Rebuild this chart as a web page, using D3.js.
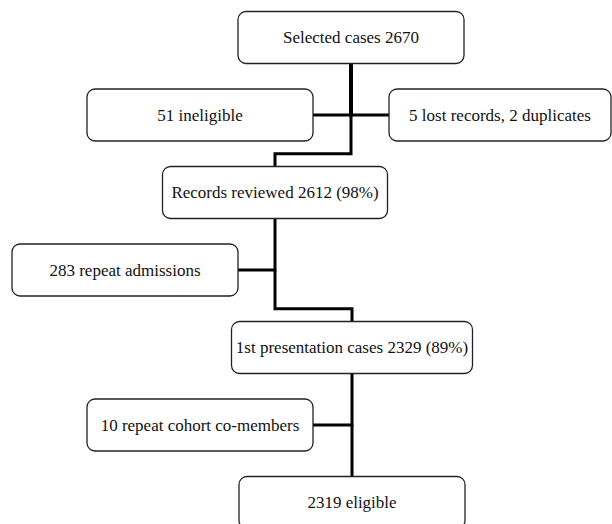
<!DOCTYPE html>
<html>
<head>
<meta charset="utf-8">
<script src="https://cdn.jsdelivr.net/npm/d3@7"></script>
<style>
  body { margin: 0; background: #fff; }
  svg { display: block; }
  .box text { font-family: "Liberation Serif", "Times New Roman", Times, serif; font-size: 17px; }
</style>
</head>
<body>
<div id="flow"></div>
<script>
// flow steps (main column) and exclusions, top to bottom
var stepLabels = ["Selected cases 2670", "Records reviewed 2612 (98%)",
                  "1st presentation cases 2329 (89%)", "2319 eligible"];
var exclusionLabels = ["51 ineligible", "5 lost records, 2 duplicates",
                       "283 repeat admissions", "10 repeat cohort co-members"];
// which step each exclusion branches off
var exclusionFrom = [0, 0, 1, 2];

// layout only (row index, centre x, box width)
var stepLayout = [
  {row: 0, cx: 351, w: 226},
  {row: 2, cx: 275, w: 225},
  {row: 4, cx: 352, w: 241},
  {row: 6, cx: 352, w: 226}
];
var exclusionLayout = [
  {row: 1, cx: 200, w: 226},
  {row: 1, cx: 500, w: 222},
  {row: 3, cx: 125, w: 226},
  {row: 5, cx: 200, w: 226}
];

var svgWidth = 612, svgHeight = 524;
var boxH = 52;

var svg = d3.select("#flow").append("svg")
  .attr("width", svgWidth)
  .attr("height", svgHeight);

var x = d3.scaleLinear().domain([0, svgWidth]).range([0, svgWidth]);
var y = d3.scaleLinear().domain([0, 6]).range([37.5, 502.5]);

var steps = stepLabels.map(function(label, i) {
  return {label: label, row: stepLayout[i].row, cx: stepLayout[i].cx, w: stepLayout[i].w};
});
var exclusions = exclusionLabels.map(function(label, i) {
  return {label: label, from: exclusionFrom[i], row: exclusionLayout[i].row,
          cx: exclusionLayout[i].cx, w: exclusionLayout[i].w};
});

var lines = svg.append("g")
  .attr("fill", "none")
  .attr("stroke", "#000");

// main flow: elbow from each step to the next
d3.pairs(steps).forEach(function(p) {
  var a = p[0], b = p[1];
  var top = y(a.row) + boxH / 2;
  var bottom = y(b.row) - boxH / 2;
  var mid = (y(a.row + 1) + boxH / 2 + bottom) / 2;
  var branch = y(a.row + 1);
  var path = d3.path();
  path.moveTo(x(a.cx), branch);
  path.lineTo(x(a.cx), mid);
  path.lineTo(x(b.cx), mid);
  path.lineTo(x(b.cx), bottom);
  lines.append("path").attr("d", path.toString()).attr("stroke-width", 3);
  lines.append("line")
    .attr("x1", x(a.cx)).attr("x2", x(a.cx))
    .attr("y1", top).attr("y2", branch + 1.5)
    .attr("stroke-width", a.row === 0 ? 4 : 3);
});

// exclusion branches
exclusions.forEach(function(e) {
  var s = steps[e.from];
  var edge = e.cx < s.cx ? e.cx + e.w / 2 : e.cx - e.w / 2;
  lines.append("line")
    .attr("x1", x(edge)).attr("x2", x(s.cx))
    .attr("y1", y(e.row)).attr("y2", y(e.row))
    .attr("stroke-width", 3);
});

var boxes = svg.selectAll("g.box")
  .data(steps.concat(exclusions))
  .enter().append("g")
  .attr("class", "box");

boxes.append("rect")
  .attr("x", function(d) { return x(d.cx - d.w / 2); })
  .attr("y", function(d) { return y(d.row) - boxH / 2; })
  .attr("width", function(d) { return d.w; })
  .attr("height", boxH)
  .attr("rx", 8)
  .attr("fill", "#fff")
  .attr("stroke", "#222")
  .attr("stroke-width", 1.3);

boxes.append("text")
  .attr("x", function(d) { return x(d.cx); })
  .attr("y", function(d) { return y(d.row); })
  .attr("dy", "0.35em")
  .attr("text-anchor", "middle")
  .attr("fill", "#111")
  .text(function(d) { return d.label; });
</script>
</body>
</html>
